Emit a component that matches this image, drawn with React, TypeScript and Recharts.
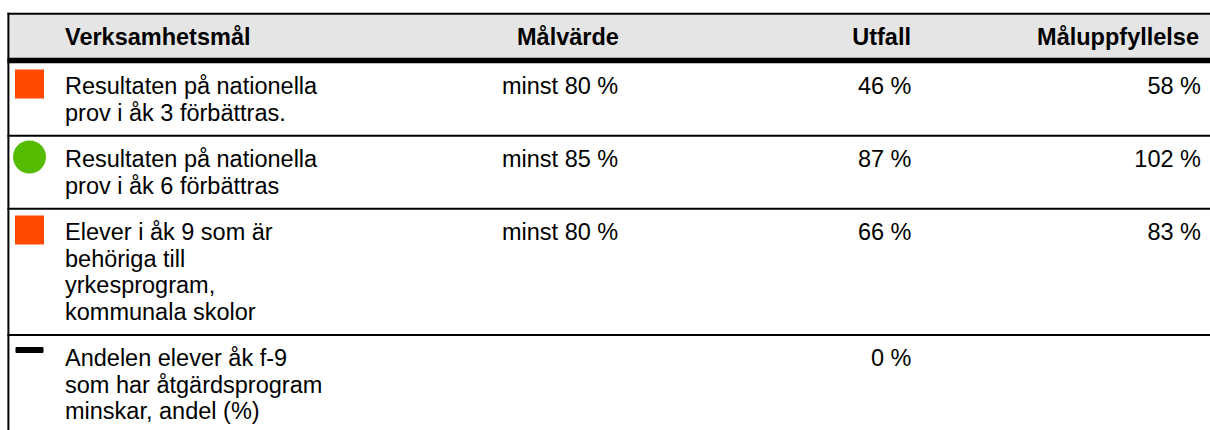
import { ScatterChart, Scatter, XAxis, YAxis, ReferenceArea, ReferenceLine } from 'recharts'

const headers = ['Verksamhetsmål', 'Målvärde', 'Utfall', 'Måluppfyllelse']
const goalLines = [
  ['Resultaten på nationella', 'prov i åk 3 förbättras.'],
  ['Resultaten på nationella', 'prov i åk 6 förbättras'],
  ['Elever i åk 9 som är', 'behöriga till', 'yrkesprogram,', 'kommunala skolor'],
  ['Andelen elever åk f-9', 'som har åtgärdsprogram', 'minskar, andel (%)'],
]
const targets = ['minst 80 %', 'minst 85 %', 'minst 80 %', '']
const outcomes: number[] = [46, 87, 66, 0]
const fulfilment: (number | null)[] = [58, 102, 83, null]
const statuses = ['red', 'green', 'red', 'none']

const W = 1210
const H = 430
const FONT = '"Liberation Sans", Arial, Helvetica, sans-serif'
const FS = 23.5
const LH = 26.6
const PAD = 19.8

// row tops from the number of text lines in each goal
const rowTops: number[] = []
let acc = 62.7
goalLines.forEach((lines) => {
  rowTops.push(acc)
  acc += PAD + Math.max(lines.length, 2) * LH
})

const pct = (v: number | null) => (v == null ? '' : `${v} %`)

const rows = goalLines.map((lines, i) => ({
  top: rowTops[i],
  base: rowTops[i] + 31.2,
  lines,
  target: targets[i],
  outcome: pct(outcomes[i]),
  fulfil: pct(fulfilment[i]),
  status: statuses[i],
}))

const headerData = [
  { x: 65, y: 45, label: headers[0], anchor: 'start' },
  { x: 517, y: 45, label: headers[1], anchor: 'start' },
  { x: 911, y: 45, label: headers[2], anchor: 'end' },
  { x: 1199, y: 45, label: headers[3], anchor: 'end' },
]

const iconData = rows.map((r) => ({ x: 29.5, y: r.status === 'none' ? r.top + 15 : r.top + 21.3, status: r.status }))
const goalData = rows.map((r) => ({ x: 65, y: r.base, lines: r.lines }))
const targetData = rows.map((r) => ({ x: 502, y: r.base, label: r.target }))
const outcomeData = rows.map((r) => ({ x: 911.5, y: r.base, label: r.outcome }))
const fulfilData = rows.map((r) => ({ x: 1201, y: r.base, label: r.fulfil }))

const Icon = (p: any) => {
  const { cx, cy, payload } = p
  if (payload.status === 'red') return <rect x={cx - 14.5} y={cy - 14.5} width={29} height={29} fill="#ff4800" />
  if (payload.status === 'green') return <circle cx={cx} cy={cy} r={16.5} fill="#55bb00" />
  return <rect x={cx - 14} y={cy - 3} width={28} height={6} rx={1} fill="#000" />
}

const textShape = (anchor: string, bold = false) => (p: any) => (
  <text
    x={p.cx}
    y={p.cy}
    textAnchor={p.payload.anchor || anchor}
    fontFamily={FONT}
    fontSize={FS}
    fontWeight={bold ? 700 : 400}
    fill="#000"
  >
    {p.payload.label}
  </text>
)

const GoalText = (p: any) => (
  <text x={p.cx} y={p.cy} fontFamily={FONT} fontSize={FS} fill="#000">
    {p.payload.lines.map((l: string, i: number) => (
      <tspan key={i} x={p.cx} dy={i === 0 ? 0 : LH}>
        {l}
      </tspan>
    ))}
  </text>
)

export default function App() {
  return (
    <div style={{ width: W, height: H }}>
      <style>{'body{margin:0;overflow:hidden}'}</style>
      <ScatterChart width={W} height={H} margin={{ top: 0, right: 0, bottom: 0, left: 0 }}>
        <XAxis type="number" dataKey="x" domain={[0, W]} hide allowDataOverflow />
        <YAxis type="number" dataKey="y" domain={[0, H]} reversed hide allowDataOverflow />
        <ReferenceArea x1={9.5} x2={W} y1={14.5} y2={58} fill="#e5e5e5" fillOpacity={1} stroke="none" ifOverflow="visible" />
        <ReferenceLine segment={[{ x: 7.5, y: 13.7 }, { x: W, y: 13.7 }]} stroke="#000" strokeWidth={2} ifOverflow="visible" />
        <ReferenceLine segment={[{ x: 8.4, y: 12.7 }, { x: 8.4, y: H }]} stroke="#000" strokeWidth={2} ifOverflow="visible" />
        <ReferenceLine segment={[{ x: 7.5, y: 60.5 }, { x: W, y: 60.5 }]} stroke="#000" strokeWidth={5.5} ifOverflow="visible" />
        {rowTops.slice(1).map((y, i) => (
          <ReferenceLine key={i} segment={[{ x: 7.5, y }, { x: W, y }]} stroke="#000" strokeWidth={2} ifOverflow="visible" />
        ))}
        <Scatter data={headerData} shape={textShape('start', true)} isAnimationActive={false} />
        <Scatter data={iconData} shape={Icon} isAnimationActive={false} />
        <Scatter data={goalData} shape={GoalText} isAnimationActive={false} />
        <Scatter data={targetData} shape={textShape('start')} isAnimationActive={false} />
        <Scatter data={outcomeData} shape={textShape('end')} isAnimationActive={false} />
        <Scatter data={fulfilData} shape={textShape('end')} isAnimationActive={false} />
      </ScatterChart>
    </div>
  )
}
